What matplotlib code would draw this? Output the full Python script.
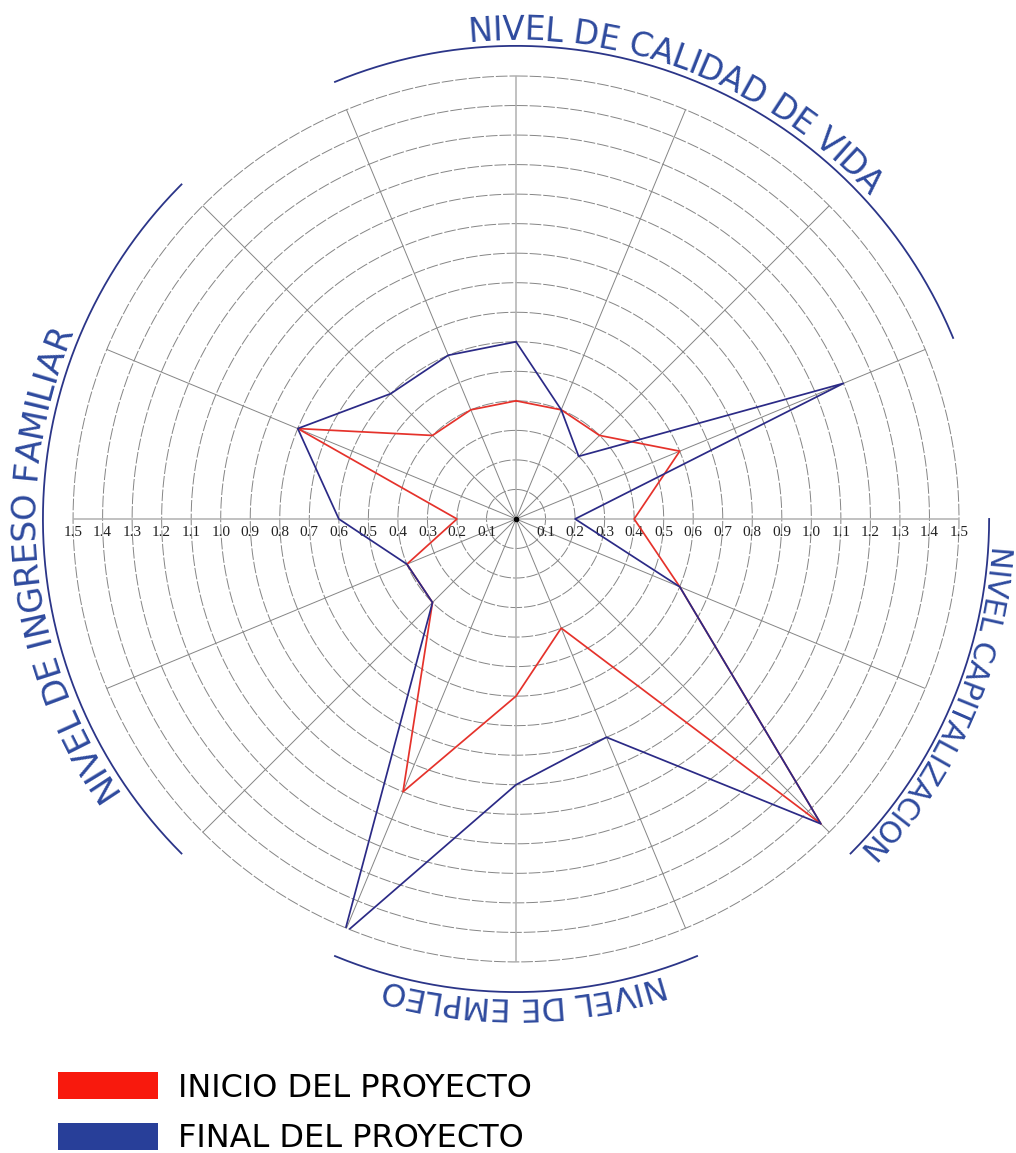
import matplotlib
matplotlib.use('Agg')
import matplotlib.pyplot as plt
import numpy as np
from matplotlib.patches import Patch
from matplotlib.textpath import TextToPath
from matplotlib.font_manager import FontProperties

# 16 ejes, cada 22.5 grados en sentido horario desde arriba
angulos = np.arange(0, 360, 22.5)
inicio = [0.4, 0.4, 0.4, 0.6, 0.4, 0.6, 1.46, 0.4, 0.6, 1.0, 0.4, 0.4, 0.2, 0.8, 0.4, 0.4]
final = [0.6, 0.4, 0.3, 1.2, 0.2, 0.6, 1.46, 0.8, 0.9, 1.52, 0.4, 0.4, 0.6, 0.8, 0.6, 0.6]
niveles = np.round(np.arange(0.1, 1.51, 0.1), 1)
etiquetas_radio = ['%.1f' % v for v in niveles]
series = ['INICIO DEL PROYECTO', 'FINAL DEL PROYECTO']
titulos = ['NIVEL DE CALIDAD DE VIDA', 'NIVEL CAPITALIZACION',
           'NIVEL DE EMPLEO', 'NIVEL DE INGRESO FAMILIAR']

# sector de cada arco (grados), centro de su texto, tamano y radio del texto
arcos = [(-22.5, 67.5), (90, 135), (157.5, 202.5), (225, 315)]
centros_texto = [21, 113.5, 179, 264]
tam_texto = [23.5, 21.4, 22.9, 24.5]
radio_texto = [1.655, 1.64, 1.65, 1.655]

AZUL_TXT = '#2e4a9e'
AZUL_ARCO = '#2b3588'
ROJO = '#e5322b'
AZUL = '#2b2a86'

fig = plt.figure(figsize=(10.16, 11.53), dpi=100)
ax = fig.add_axes([0.0719, 0.1657, 0.8720, 0.7684], projection='polar')
ax.set_theta_zero_location('N')
ax.set_theta_direction(-1)
ax.set_ylim(0, 1.5)
ax.spines['polar'].set_visible(False)
ax.set_xticks([])
ax.set_yticks([])
ax.grid(False)

# anillos punteados
circ = np.linspace(0, 2 * np.pi, 500)
for v in niveles:
    ax.plot(circ, np.full_like(circ, v), color='#858585', lw=0.7, ls=(0, (12, 2)),
            zorder=1, clip_on=False)

# radios
for ang in angulos:
    if ang % 90 == 0:
        ax.plot([np.deg2rad(ang)] * 2, [0, 1.5], color='#b0b0b0', lw=1.1, zorder=1)
    else:
        ax.plot([np.deg2rad(ang)] * 2, [0, 1.5], color='#858585', lw=0.7, zorder=1)

ax.plot(0, 0, 'o', ms=3, color='black', zorder=5)

# etiquetas de la escala en el eje horizontal
for v, lab in zip(niveles, etiquetas_radio):
    for ang in (90, 270):
        ax.annotate(lab, xy=(np.deg2rad(ang), v), xytext=(0, -9.6),
                    textcoords='offset points', ha='center', va='center',
                    fontsize=11, family='Liberation Serif', color='#222222',
                    annotation_clip=False)

# series
th = np.deg2rad(np.append(angulos, angulos[0]))
ax.plot(th, inicio + inicio[:1], color=ROJO, lw=1.25, zorder=3)
ax.plot(th, final + final[:1], color=AZUL, lw=1.25, zorder=4)

# arcos y texto curvo
R_ARCO = 1.602
px_por_unidad = ax.bbox.width / 2 / 1.5
t2p = TextToPath()


def ancho(s, prop):
    # en puntos
    return t2p.get_text_width_height_descent(s, prop, ismath=False)[0]


def avance(ch, prop):
    # avance real del caracter, con sus margenes
    return ancho('H' + ch + 'H', prop) - ancho('HH', prop)


def texto_curvo(texto, centro, radio, size):
    prop = FontProperties(family='DejaVu Sans', size=size)
    avs = [avance(ch, prop) for ch in texto]
    esp = avance(' ', prop)
    total = sum(avs)
    r_pt = radio * px_por_unidad * 72.0 / fig.dpi
    pos = -total / 2
    for ch, w in zip(texto, avs):
        if ch != ' ':
            a = centro + np.degrees((pos + w / 2) / r_pt)
            rot = np.deg2rad(-a)
            # se antepone un espacio para que el origen del glifo quede fijo
            d = esp + w / 2
            ax.annotate(' ' + ch, xy=(np.deg2rad(a), radio),
                        xytext=(-d * np.cos(rot), -d * np.sin(rot)),
                        textcoords='offset points', rotation=-a,
                        rotation_mode='anchor', ha='left', va='center',
                        fontproperties=prop, color=AZUL_TXT, annotation_clip=False)
        pos += w


for (a0, a1), tit, c, sz, rt in zip(arcos, titulos, centros_texto, tam_texto, radio_texto):
    tt = np.deg2rad(np.linspace(a0, a1, 200))
    ax.plot(tt, np.full_like(tt, R_ARCO), color=AZUL_ARCO, lw=1.3, clip_on=False)
    texto_curvo(tit, c, rt, sz)

# leyenda
handles = [Patch(facecolor='#f8190d', edgecolor='none', label=series[0]),
           Patch(facecolor='#283f99', edgecolor='none', label=series[1])]
fig.legend(handles=handles, loc='upper left', bbox_to_anchor=(58 / 1016, 1 - 1072 / 1153),
           frameon=False, fontsize=23, handlelength=3.13, handleheight=0.94,
           handletextpad=0.63, labelspacing=0.6, borderpad=0, borderaxespad=0)

fig.savefig('out.png', dpi=100)
